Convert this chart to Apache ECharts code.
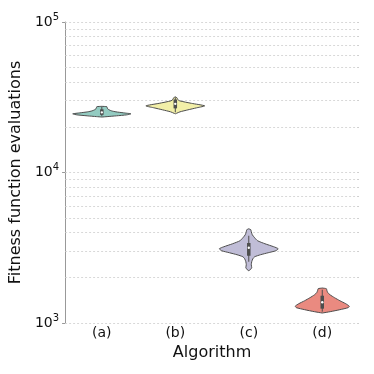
<!DOCTYPE html>
<html>
<head>
<meta charset="utf-8">
<script src="https://cdn.jsdelivr.net/npm/echarts@6/dist/echarts.min.js"></script>
<style>
  html, body { margin: 0; padding: 0; background: #fff; }
  #chart { width: 374px; height: 374px; }
</style>
</head>
<body>
<div id="chart"></div>
<script>
// categories on the x axis
const categories = ['(a)', '(b)', '(c)', '(d)'];
const colors = ['#93cbc1', '#f2efa8', '#c0bdd7', '#ea8a80'];

// violin outlines: evaluation levels (top -> bottom) and relative density (1 = full half width)
const violinValues = [
  [27520, 27390, 27100, 26490, 26080, 25680, 25300, 24910, 24540, 24160, 23800, 23510, 23360],
  [31830, 31330, 30580, 29930, 28810, 27730, 26890, 26080, 25300, 24720, 24540],
  [4228, 4164, 4039, 3858, 3685, 3520, 3362, 3211, 3114, 3021, 2930, 2842, 2755, 2673, 2553, 2438, 2329, 2259, 2225],
  [1708, 1690, 1639, 1590, 1542, 1472, 1406, 1343, 1293, 1264, 1226, 1189, 1165]
];
const violinDensity = [
  [0, 0.17, 0.18, 0.2, 0.25, 0.33, 0.48, 0.74, 0.99, 0.85, 0.5, 0.18, 0],
  [0, 0.06, 0.08, 0.15, 0.55, 1.0, 0.72, 0.43, 0.16, 0.04, 0],
  [0, 0.07, 0.085, 0.12, 0.2, 0.3, 0.55, 0.85, 1.0, 0.92, 0.66, 0.4, 0.2, 0.14, 0.1, 0.085, 0.1, 0.05, 0],
  [0, 0.14, 0.16, 0.19, 0.26, 0.42, 0.6, 0.8, 0.92, 0.88, 0.6, 0.27, 0]
];

// inner box: [whisker low, q1, median, q3, whisker high]
const boxStats = [
  [23650, 24160, 25100, 26280, 27310],
  [25100, 26680, 28590, 30580, 31580],
  [2553, 2798, 3160, 3400, 3800],
  [1189, 1245, 1374, 1518, 1664]
];

// log grid lines
const gridValues = [
  1000, 2000, 3000, 4000, 5000, 6000, 7000, 8000, 9000,
  10000, 20000, 30000, 40000, 50000, 60000, 70000, 80000, 90000, 100000
];

const font = 'DejaVu Sans';
const edge = '#4d4d4d';

const chart = echarts.init(document.getElementById('chart'));

function renderViolin(params, api) {
  const idx = api.value(0);
  const halfMax = api.size([1, 0])[0] * 0.4;
  const vals = violinValues[idx];
  const dens = violinDensity[idx];
  const right = [], left = [];
  for (let i = 0; i < vals.length; i++) {
    const p = api.coord([idx, vals[i]]);
    right.push([p[0] + dens[i] * halfMax, p[1]]);
    left.unshift([p[0] - dens[i] * halfMax, p[1]]);
  }
  const b = boxStats[idx];
  const lo = api.coord([idx, b[0]]);
  const q1 = api.coord([idx, b[1]]);
  const med = api.coord([idx, b[2]]);
  const q3 = api.coord([idx, b[3]]);
  const hi = api.coord([idx, b[4]]);
  return {
    type: 'group',
    children: [
      {
        type: 'polygon',
        shape: { points: right.concat(left), smooth: 0.2 },
        style: { fill: colors[idx], stroke: edge, lineWidth: 1 }
      },
      {
        type: 'line',
        shape: { x1: lo[0], y1: lo[1], x2: hi[0], y2: hi[1] },
        style: { stroke: edge, lineWidth: 1 }
      },
      {
        type: 'line',
        shape: { x1: q1[0], y1: q1[1], x2: q3[0], y2: q3[1] },
        style: { stroke: edge, lineWidth: 3.5 }
      },
      {
        type: 'circle',
        shape: { cx: med[0], cy: med[1], r: 1.2 },
        style: { fill: '#fff' }
      }
    ]
  };
}

const option = {
  animation: false,
  grid: { left: 64, right: 15, top: 22, bottom: 51, containLabel: false },
  xAxis: {
    type: 'category',
    data: categories,
    name: 'Algorithm',
    nameLocation: 'middle',
    nameGap: 17,
    nameTextStyle: { fontFamily: font, fontSize: 16, color: '#111' },
    axisLine: { show: false },
    axisTick: { show: false },
    axisLabel: { fontFamily: font, fontSize: 14, color: '#111', margin: 3 },
    splitLine: { show: false }
  },
  yAxis: {
    type: 'log',
    logBase: 10,
    min: 1000,
    max: 100000,
    name: 'Fitness function evaluations',
    nameLocation: 'middle',
    nameGap: 30,
    nameTextStyle: { fontFamily: font, fontSize: 16, color: '#111' },
    axisLine: { show: true, lineStyle: { color: '#999', width: 1 } },
    axisTick: { show: true, length: 3, lineStyle: { color: '#999' } },
    splitLine: { show: false },
    axisLabel: {
      margin: 6,
      formatter: v => '{b|10}{s|' + Math.round(Math.log10(v)) + '}',
      rich: {
        b: { fontFamily: font, fontSize: 14, color: '#111' },
        s: { fontFamily: font, fontSize: 10, color: '#111', verticalAlign: 'top', padding: [0, 0, 10, 0] }
      }
    }
  },
  series: [
    {
      type: 'line',
      data: [],
      z: 1,
      silent: true,
      markLine: {
        silent: true,
        symbol: 'none',
        label: { show: false },
        lineStyle: { type: [2, 2], color: '#cfcfcf', width: 0.8 },
        data: gridValues.map(v => ({ yAxis: v }))
      }
    },
    {
      type: 'custom',
      z: 5,
      renderItem: renderViolin,
      data: categories.map((c, i) => [i])
    }
  ]
};

chart.setOption(option);
</script>
</body>
</html>
